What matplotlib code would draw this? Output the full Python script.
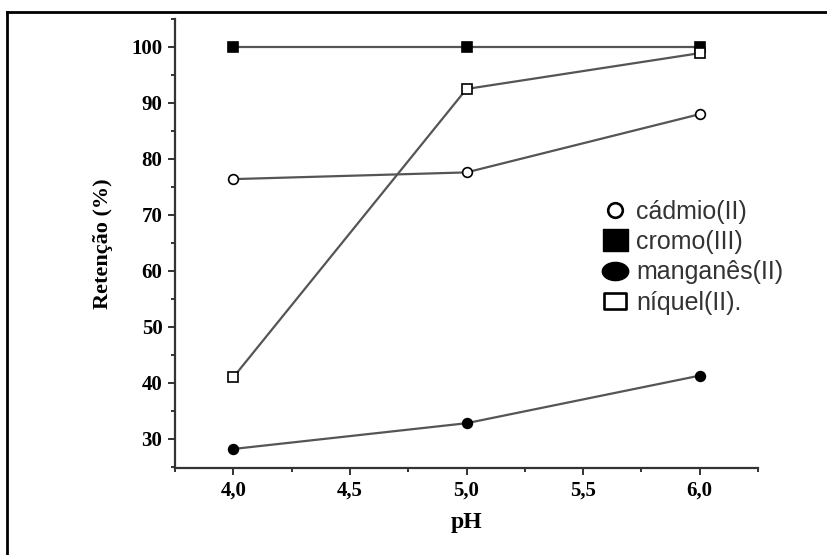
import numpy as np
import matplotlib
matplotlib.use("Agg")
import matplotlib.pyplot as plt
from matplotlib.lines import Line2D
from matplotlib.path import Path
from matplotlib.transforms import Affine2D
from matplotlib.ticker import MultipleLocator, FuncFormatter

# ── Dados ────────────────────────────────────────────────────────────────────
ph = [4.0, 5.0, 6.0]
cadmio = [76.4, 77.6, 88.0]
cromo = [100.0, 100.0, 100.0]
manganes = [28.2, 32.8, 41.3]
niquel = [41.0, 92.5, 98.9]

rotulos = ["cádmio(II)", "cromo(III)", "manganês(II)", "níquel(II)."]

SERIF = "Liberation Serif"
LINHA = "#555555"

fig = plt.figure(figsize=(8.28, 5.55), dpi=100)
ax = fig.add_axes([175 / 828, 1 - 468 / 555, (758 - 175) / 828, (468 - 19) / 555])

kw = dict(color=LINHA, lw=1.6, markeredgecolor="black", markeredgewidth=1.2,
          markersize=7)
ax.plot(ph, cromo, marker="s", markerfacecolor="black", **kw)
ax.plot(ph, niquel, marker="s", markerfacecolor="white", **kw)
ax.plot(ph, cadmio, marker="o", markerfacecolor="white", **kw)
ax.plot(ph, manganes, marker="o", markerfacecolor="black", **kw)

ax.set_xlim(3.75, 6.25)
ax.set_ylim(24.8, 105)
ax.spines["top"].set_visible(False)
ax.spines["right"].set_visible(False)
for s in ("left", "bottom"):
    ax.spines[s].set_color("#333333")
    ax.spines[s].set_linewidth(1.6)

ax.xaxis.set_major_locator(MultipleLocator(0.5))
ax.xaxis.set_minor_locator(MultipleLocator(0.25))
ax.yaxis.set_major_locator(MultipleLocator(10))
ax.yaxis.set_minor_locator(MultipleLocator(5))
ax.xaxis.set_major_formatter(FuncFormatter(lambda v, p: f"{v:.1f}".replace(".", ",")))
ax.yaxis.set_major_formatter(FuncFormatter(lambda v, p: f"{v:.0f}"))
ax.tick_params(which="major", direction="out", length=5, width=1.4, color="#333333",
               labelsize=15, pad=4)
ax.tick_params(which="minor", direction="out", length=3, width=1.4, color="#333333")
for lab in ax.get_xticklabels() + ax.get_yticklabels():
    lab.set_fontfamily(SERIF)
    lab.set_fontweight("bold")
    lab.set_fontsize(15)

ax.set_xlabel("pH", fontfamily=SERIF, fontweight="bold", fontsize=17, labelpad=8)
ax.set_ylabel("Retenção (%)", fontfamily=SERIF, fontweight="bold", fontsize=16,
              labelpad=13)


def retangulo(rx, ry):
    return Path([(-rx, -ry), (rx, -ry), (rx, ry), (-rx, ry), (-rx, -ry)],
                [Path.MOVETO, Path.LINETO, Path.LINETO, Path.LINETO, Path.CLOSEPOLY])


# marcadores da legenda
elipse = Path.unit_circle().transformed(Affine2D().scale(1.45, 1.0))
handles = [
    Line2D([], [], ls="none", marker="o", markersize=10.5, markerfacecolor="white",
           markeredgecolor="black", markeredgewidth=1.9),
    Line2D([], [], ls="none", marker=retangulo(1.15, 1.0), markersize=18,
           markerfacecolor="black", markeredgecolor="black"),
    Line2D([], [], ls="none", marker=elipse, markersize=19, markerfacecolor="black",
           markeredgecolor="black"),
    Line2D([], [], ls="none", marker=retangulo(1.45, 1.0), markersize=16,
           markerfacecolor="white", markeredgecolor="black", markeredgewidth=1.9),
]
leg = fig.legend(handles, rotulos, loc="upper left", bbox_to_anchor=(589 / 828, 1 - 187 / 555),
                 frameon=False, handlelength=1.1, handletextpad=0.28,
                 labelspacing=0.26, borderpad=0,
                 prop={"family": "Liberation Sans", "size": 18})
for t in leg.get_texts():
    t.set_color("#333333")

# moldura externa (apenas topo e esquerda visíveis)
fig.add_artist(Line2D([7 / 828, 7 / 828], [0, 1 - 12 / 555], transform=fig.transFigure,
                      color="black", lw=2))
fig.add_artist(Line2D([7 / 828, 1], [1 - 12 / 555, 1 - 12 / 555], transform=fig.transFigure,
                      color="black", lw=2))

fig.savefig("out.png", dpi=100)
